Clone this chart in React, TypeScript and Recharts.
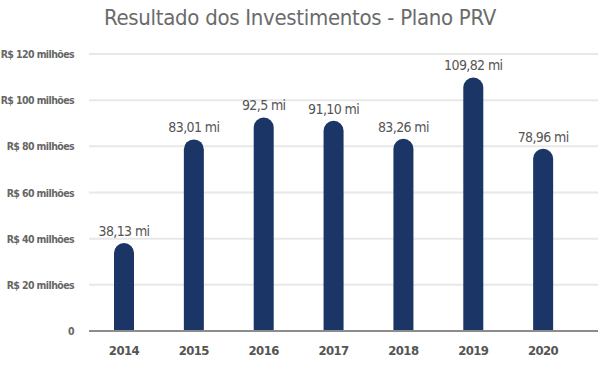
import React from 'react';
import { BarChart, Bar, XAxis, YAxis, CartesianGrid, LabelList } from 'recharts';

const years = ['2014', '2015', '2016', '2017', '2018', '2019', '2020'];
const results = [38.13, 83.01, 92.5, 91.1, 83.26, 109.82, 78.96];
const resultLabels = ['38,13 mi', '83,01 mi', '92,5 mi', '91,10 mi', '83,26 mi', '109,82 mi', '78,96 mi'];
const yTicks = [0, 20, 40, 60, 80, 100, 120];

const FONT = '"DejaVu Sans Condensed", sans-serif';

const data = years.map((year, i) => ({ year, value: results[i], label: resultLabels[i] }));

const yTickFormat = (v: number) => (v === 0 ? '0' : `R$ ${v} milhões`);

const YTick = (props: any) => {
  const { y, payload } = props;
  return (
    <text x={74} y={y} dy={4} textAnchor="end" fill="#666" fontSize={10.5} fontWeight="bold" letterSpacing={-0.6} fontFamily={FONT}>
      {yTickFormat(payload.value)}
    </text>
  );
};

const XTick = (props: any) => {
  const { x, y, payload } = props;
  return (
    <text x={x} y={y} dy={12} textAnchor="middle" fill="#555" fontSize={13} fontWeight="bold" letterSpacing={-0.6} fontFamily={FONT}>
      {payload.value}
    </text>
  );
};

const BarLabel = (props: any) => {
  const { x, y, width, value } = props;
  return (
    <text x={x + width / 2} y={y - 7} textAnchor="middle" fill="#555" fontSize={14} letterSpacing={-0.6} fontFamily={FONT}>
      {value}
    </text>
  );
};

export default function App() {
  return (
    <div style={{ position: 'absolute', left: 0, top: 0, width: 600, height: 378, background: '#fff' }}>
      <div style={{ position: 'absolute', top: 5, left: 0, width: 600, textAlign: 'center', fontSize: 22, color: '#6b6b6b', fontFamily: FONT, letterSpacing: -0.3 }}>
        Resultado dos Investimentos - Plano PRV
      </div>
      <BarChart width={600} height={378} data={data} margin={{ top: 54, right: 2, bottom: 17, left: 0 }}>
        <CartesianGrid vertical={false} stroke="#e8e8e8" strokeWidth={2} />
        <XAxis
          dataKey="year"
          height={30}
          padding={{ left: 0, right: 20 }}
          axisLine={{ stroke: '#8c8c8c', strokeWidth: 2 }}
          tickLine={false}
          tick={<XTick />}
          tickMargin={6}
        />
        <YAxis
          domain={[0, 120]}
          ticks={yTicks}
          width={89}
          axisLine={false}
          tickLine={false}
          tick={<YTick />}
        />
        <Bar dataKey="value" fill="#1b3566" barSize={20} radius={[10, 10, 0, 0]} isAnimationActive={false}>
          <LabelList dataKey="label" content={<BarLabel />} />
        </Bar>
      </BarChart>
    </div>
  );
}
